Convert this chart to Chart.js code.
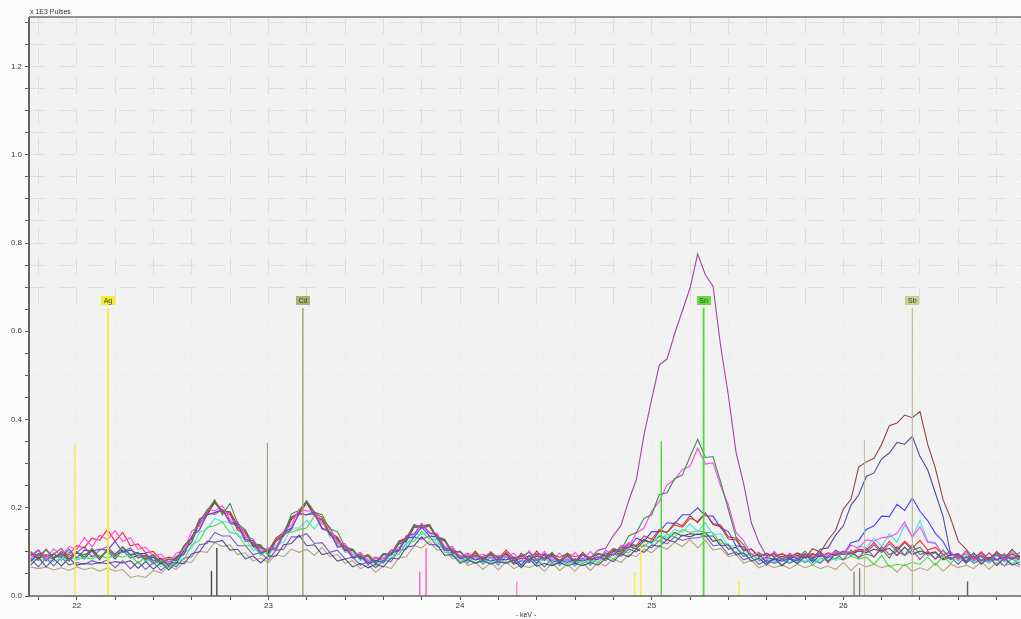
<!DOCTYPE html>
<html>
<head>
<meta charset="utf-8">
<script src="https://cdn.jsdelivr.net/npm/chart.js@4.4.1/dist/chart.umd.min.js"></script>
<style>
  html, body { margin: 0; padding: 0; background: #fcfcfc; }
  #wrap { width: 1021px; height: 619px; position: relative; }
</style>
</head>
<body>
<div id="wrap"><canvas id="spectrum"></canvas></div>
<script>
// Spectrum channels: first channel energy and channel width, keV
const KEV_START = 21.76;
const KEV_STEP = 0.04;

// Counts per channel, x 1E3 pulses (130 channels, 21.76 - 26.92 keV)
const specPurple = [
  0.092, 0.104, 0.080, 0.095, 0.108, 0.084, 0.099, 0.112, 0.088, 0.104,
  0.112, 0.094, 0.101, 0.109, 0.086, 0.093, 0.074, 0.085, 0.068, 0.090,
  0.097, 0.134, 0.150, 0.188, 0.185, 0.196, 0.165, 0.160, 0.124, 0.126,
  0.098, 0.106, 0.104, 0.138, 0.150, 0.188, 0.184, 0.186, 0.152, 0.146,
  0.110, 0.114, 0.088, 0.096, 0.075, 0.086, 0.080, 0.102, 0.104, 0.136,
  0.140, 0.162, 0.142, 0.139, 0.108, 0.107, 0.086, 0.094, 0.082, 0.090,
  0.095, 0.076, 0.099, 0.081, 0.091, 0.078, 0.094, 0.082, 0.090, 0.079,
  0.090, 0.080, 0.093, 0.086, 0.104, 0.108, 0.137, 0.160, 0.216, 0.264,
  0.365, 0.446, 0.524, 0.537, 0.595, 0.646, 0.698, 0.775, 0.728, 0.702,
  0.566, 0.455, 0.326, 0.254, 0.166, 0.121, 0.090, 0.097, 0.082, 0.094,
  0.083, 0.094, 0.087, 0.099, 0.075, 0.097, 0.082, 0.104, 0.086, 0.108,
  0.088, 0.112, 0.094, 0.101, 0.092, 0.104, 0.083, 0.102, 0.084, 0.094,
  0.082, 0.094, 0.080, 0.091, 0.079, 0.098, 0.081, 0.096, 0.082, 0.099
];
const specDarkGreen = [
  0.098, 0.092, 0.104, 0.086, 0.096, 0.079, 0.100, 0.089, 0.108, 0.087,
  0.104, 0.096, 0.110, 0.094, 0.099, 0.081, 0.094, 0.076, 0.084, 0.082,
  0.114, 0.132, 0.170, 0.193, 0.218, 0.184, 0.210, 0.164, 0.150, 0.118,
  0.116, 0.094, 0.124, 0.139, 0.186, 0.194, 0.216, 0.190, 0.184, 0.152,
  0.146, 0.111, 0.106, 0.083, 0.092, 0.074, 0.096, 0.094, 0.122, 0.128,
  0.162, 0.156, 0.158, 0.133, 0.126, 0.101, 0.101, 0.082, 0.098, 0.079,
  0.097, 0.088, 0.094, 0.084, 0.090, 0.099, 0.081, 0.088, 0.097, 0.080,
  0.096, 0.078, 0.094, 0.086, 0.097, 0.090, 0.106, 0.104, 0.136, 0.144,
  0.176, 0.184, 0.230, 0.234, 0.266, 0.274, 0.316, 0.355, 0.314, 0.316,
  0.258, 0.196, 0.134, 0.116, 0.089, 0.096, 0.091, 0.095, 0.085, 0.092,
  0.084, 0.102, 0.081, 0.100, 0.079, 0.098, 0.094, 0.097, 0.088, 0.095,
  0.089, 0.107, 0.086, 0.112, 0.092, 0.116, 0.094, 0.100, 0.084, 0.104,
  0.084, 0.092, 0.086, 0.095, 0.088, 0.080, 0.097, 0.091, 0.094, 0.086
];
const specMagenta = [
  0.084, 0.104, 0.087, 0.107, 0.090, 0.112, 0.106, 0.132, 0.112, 0.138,
  0.128, 0.148, 0.124, 0.132, 0.106, 0.111, 0.090, 0.095, 0.076, 0.097,
  0.104, 0.147, 0.158, 0.197, 0.193, 0.205, 0.173, 0.169, 0.133, 0.129,
  0.101, 0.109, 0.108, 0.147, 0.161, 0.197, 0.193, 0.192, 0.163, 0.157,
  0.121, 0.119, 0.093, 0.099, 0.080, 0.089, 0.084, 0.105, 0.106, 0.137,
  0.141, 0.165, 0.143, 0.142, 0.111, 0.112, 0.090, 0.097, 0.088, 0.095,
  0.086, 0.093, 0.088, 0.097, 0.078, 0.103, 0.082, 0.101, 0.079, 0.097,
  0.079, 0.099, 0.081, 0.101, 0.084, 0.103, 0.094, 0.115, 0.112, 0.142,
  0.154, 0.192, 0.214, 0.252, 0.264, 0.287, 0.294, 0.335, 0.299, 0.302,
  0.249, 0.207, 0.144, 0.125, 0.094, 0.099, 0.082, 0.101, 0.080, 0.097,
  0.086, 0.093, 0.089, 0.097, 0.092, 0.101, 0.094, 0.115, 0.109, 0.127,
  0.124, 0.132, 0.134, 0.142, 0.168, 0.133, 0.157, 0.122, 0.119, 0.094,
  0.099, 0.082, 0.102, 0.080, 0.097, 0.078, 0.099, 0.082, 0.101, 0.084
];
const specBrown = [
  0.101, 0.082, 0.106, 0.086, 0.093, 0.090, 0.097, 0.094, 0.101, 0.082,
  0.107, 0.089, 0.112, 0.092, 0.097, 0.088, 0.092, 0.074, 0.083, 0.080,
  0.112, 0.129, 0.175, 0.184, 0.212, 0.189, 0.185, 0.149, 0.142, 0.112,
  0.109, 0.102, 0.132, 0.144, 0.179, 0.189, 0.212, 0.184, 0.172, 0.139,
  0.129, 0.102, 0.105, 0.084, 0.091, 0.074, 0.095, 0.094, 0.122, 0.129,
  0.159, 0.159, 0.162, 0.132, 0.127, 0.096, 0.101, 0.084, 0.092, 0.086,
  0.093, 0.087, 0.095, 0.074, 0.097, 0.078, 0.102, 0.081, 0.099, 0.076,
  0.097, 0.078, 0.099, 0.082, 0.089, 0.084, 0.101, 0.094, 0.113, 0.106,
  0.125, 0.122, 0.147, 0.144, 0.167, 0.159, 0.182, 0.166, 0.188, 0.162,
  0.157, 0.129, 0.127, 0.102, 0.107, 0.089, 0.097, 0.088, 0.095, 0.086,
  0.097, 0.086, 0.107, 0.099, 0.127, 0.149, 0.197, 0.219, 0.292, 0.304,
  0.312, 0.344, 0.386, 0.392, 0.410, 0.404, 0.418, 0.344, 0.290, 0.219,
  0.176, 0.124, 0.106, 0.084, 0.091, 0.086, 0.093, 0.084, 0.089, 0.082
];
const specSlate = [
  0.070, 0.088, 0.066, 0.084, 0.068, 0.086, 0.070, 0.074, 0.072, 0.076,
  0.073, 0.078, 0.075, 0.080, 0.063, 0.078, 0.061, 0.076, 0.059, 0.076,
  0.073, 0.096, 0.100, 0.124, 0.122, 0.126, 0.104, 0.106, 0.084, 0.091,
  0.075, 0.091, 0.090, 0.116, 0.119, 0.138, 0.114, 0.116, 0.094, 0.098,
  0.079, 0.084, 0.066, 0.074, 0.064, 0.072, 0.066, 0.086, 0.084, 0.111,
  0.114, 0.134, 0.116, 0.116, 0.092, 0.094, 0.074, 0.082, 0.074, 0.080,
  0.072, 0.078, 0.074, 0.081, 0.064, 0.084, 0.067, 0.074, 0.069, 0.076,
  0.068, 0.074, 0.069, 0.076, 0.070, 0.086, 0.078, 0.096, 0.089, 0.106,
  0.099, 0.116, 0.112, 0.128, 0.122, 0.138, 0.134, 0.141, 0.136, 0.136,
  0.114, 0.116, 0.094, 0.098, 0.079, 0.086, 0.070, 0.086, 0.068, 0.084,
  0.074, 0.091, 0.084, 0.106, 0.109, 0.138, 0.159, 0.206, 0.229, 0.271,
  0.279, 0.311, 0.324, 0.348, 0.344, 0.362, 0.316, 0.286, 0.234, 0.181,
  0.094, 0.094, 0.074, 0.091, 0.072, 0.088, 0.069, 0.086, 0.070, 0.076
];
const specBlue = [
  0.079, 0.096, 0.090, 0.094, 0.088, 0.106, 0.086, 0.104, 0.102, 0.106,
  0.104, 0.124, 0.099, 0.104, 0.096, 0.096, 0.079, 0.086, 0.069, 0.088,
  0.094, 0.136, 0.149, 0.184, 0.189, 0.196, 0.169, 0.161, 0.129, 0.121,
  0.096, 0.106, 0.109, 0.144, 0.154, 0.186, 0.184, 0.191, 0.154, 0.146,
  0.114, 0.111, 0.086, 0.091, 0.072, 0.081, 0.076, 0.098, 0.102, 0.131,
  0.134, 0.156, 0.136, 0.134, 0.104, 0.104, 0.084, 0.090, 0.082, 0.086,
  0.079, 0.084, 0.082, 0.088, 0.070, 0.092, 0.074, 0.096, 0.076, 0.082,
  0.076, 0.084, 0.079, 0.086, 0.082, 0.098, 0.092, 0.111, 0.109, 0.131,
  0.124, 0.146, 0.146, 0.166, 0.164, 0.184, 0.184, 0.200, 0.182, 0.181,
  0.154, 0.146, 0.114, 0.111, 0.089, 0.094, 0.076, 0.084, 0.079, 0.086,
  0.079, 0.096, 0.076, 0.094, 0.086, 0.104, 0.094, 0.121, 0.126, 0.151,
  0.159, 0.181, 0.180, 0.208, 0.194, 0.222, 0.192, 0.171, 0.142, 0.124,
  0.092, 0.096, 0.078, 0.098, 0.080, 0.086, 0.082, 0.088, 0.084, 0.091
];
const specRed = [
  0.096, 0.090, 0.094, 0.088, 0.096, 0.094, 0.114, 0.109, 0.131, 0.126,
  0.151, 0.124, 0.144, 0.114, 0.118, 0.098, 0.101, 0.082, 0.088, 0.084,
  0.114, 0.132, 0.171, 0.189, 0.211, 0.194, 0.188, 0.154, 0.146, 0.114,
  0.111, 0.102, 0.128, 0.142, 0.178, 0.184, 0.212, 0.189, 0.178, 0.144,
  0.134, 0.104, 0.106, 0.086, 0.094, 0.078, 0.096, 0.094, 0.124, 0.132,
  0.161, 0.154, 0.158, 0.130, 0.124, 0.098, 0.101, 0.084, 0.102, 0.082,
  0.100, 0.084, 0.104, 0.086, 0.092, 0.089, 0.096, 0.092, 0.094, 0.088,
  0.096, 0.089, 0.094, 0.088, 0.096, 0.092, 0.108, 0.102, 0.121, 0.114,
  0.136, 0.129, 0.151, 0.144, 0.161, 0.156, 0.176, 0.169, 0.188, 0.164,
  0.161, 0.134, 0.131, 0.104, 0.106, 0.088, 0.096, 0.090, 0.096, 0.088,
  0.098, 0.092, 0.096, 0.090, 0.098, 0.094, 0.102, 0.098, 0.106, 0.104,
  0.121, 0.102, 0.124, 0.106, 0.124, 0.109, 0.126, 0.104, 0.110, 0.094,
  0.100, 0.084, 0.102, 0.084, 0.100, 0.082, 0.098, 0.080, 0.096, 0.088
];
const specCyan = [
  0.086, 0.080, 0.084, 0.079, 0.086, 0.082, 0.088, 0.084, 0.091, 0.086,
  0.104, 0.086, 0.106, 0.088, 0.094, 0.078, 0.084, 0.066, 0.076, 0.070,
  0.098, 0.109, 0.144, 0.152, 0.176, 0.169, 0.166, 0.136, 0.131, 0.104,
  0.106, 0.092, 0.116, 0.122, 0.154, 0.154, 0.171, 0.152, 0.174, 0.134,
  0.126, 0.099, 0.100, 0.080, 0.086, 0.070, 0.088, 0.084, 0.111, 0.114,
  0.141, 0.139, 0.146, 0.119, 0.114, 0.090, 0.094, 0.076, 0.092, 0.074,
  0.090, 0.072, 0.092, 0.074, 0.082, 0.078, 0.085, 0.080, 0.086, 0.070,
  0.086, 0.070, 0.088, 0.072, 0.091, 0.084, 0.101, 0.094, 0.114, 0.109,
  0.126, 0.119, 0.138, 0.132, 0.151, 0.144, 0.164, 0.146, 0.166, 0.139,
  0.141, 0.114, 0.114, 0.092, 0.096, 0.079, 0.086, 0.078, 0.084, 0.076,
  0.086, 0.079, 0.084, 0.078, 0.096, 0.080, 0.100, 0.094, 0.114, 0.109,
  0.131, 0.112, 0.141, 0.122, 0.161, 0.134, 0.171, 0.124, 0.121, 0.094,
  0.096, 0.079, 0.096, 0.076, 0.094, 0.074, 0.092, 0.076, 0.084, 0.078
];
const specGreen = [
  0.076, 0.096, 0.079, 0.098, 0.080, 0.100, 0.082, 0.088, 0.084, 0.092,
  0.086, 0.092, 0.088, 0.094, 0.074, 0.090, 0.072, 0.080, 0.064, 0.080,
  0.082, 0.116, 0.126, 0.156, 0.159, 0.168, 0.144, 0.141, 0.114, 0.114,
  0.092, 0.106, 0.106, 0.146, 0.144, 0.151, 0.154, 0.181, 0.174, 0.156,
  0.119, 0.114, 0.089, 0.092, 0.074, 0.081, 0.074, 0.094, 0.094, 0.121,
  0.124, 0.146, 0.129, 0.128, 0.099, 0.098, 0.078, 0.084, 0.076, 0.082,
  0.074, 0.080, 0.076, 0.083, 0.066, 0.086, 0.069, 0.088, 0.071, 0.079,
  0.072, 0.080, 0.074, 0.082, 0.076, 0.092, 0.084, 0.102, 0.098, 0.116,
  0.112, 0.128, 0.124, 0.141, 0.134, 0.151, 0.144, 0.148, 0.144, 0.144,
  0.119, 0.118, 0.094, 0.098, 0.079, 0.086, 0.072, 0.088, 0.070, 0.086,
  0.072, 0.088, 0.070, 0.086, 0.079, 0.086, 0.082, 0.090, 0.084, 0.088,
  0.072, 0.092, 0.066, 0.072, 0.069, 0.076, 0.072, 0.088, 0.070, 0.090,
  0.074, 0.092, 0.076, 0.084, 0.079, 0.086, 0.070, 0.088, 0.072, 0.086
];
const specDarkGrey = [
  0.092, 0.086, 0.090, 0.084, 0.101, 0.082, 0.100, 0.084, 0.104, 0.086,
  0.102, 0.084, 0.104, 0.086, 0.092, 0.084, 0.088, 0.072, 0.078, 0.074,
  0.104, 0.122, 0.166, 0.184, 0.216, 0.192, 0.191, 0.159, 0.146, 0.116,
  0.114, 0.098, 0.126, 0.136, 0.174, 0.189, 0.211, 0.182, 0.171, 0.139,
  0.131, 0.104, 0.104, 0.084, 0.091, 0.074, 0.094, 0.092, 0.118, 0.124,
  0.156, 0.156, 0.161, 0.134, 0.128, 0.099, 0.101, 0.082, 0.098, 0.079,
  0.096, 0.078, 0.098, 0.080, 0.086, 0.084, 0.090, 0.086, 0.092, 0.074,
  0.092, 0.074, 0.094, 0.078, 0.096, 0.088, 0.104, 0.099, 0.116, 0.112,
  0.128, 0.120, 0.136, 0.127, 0.144, 0.136, 0.141, 0.139, 0.144, 0.124,
  0.128, 0.106, 0.110, 0.090, 0.096, 0.080, 0.088, 0.082, 0.090, 0.084,
  0.092, 0.086, 0.094, 0.089, 0.096, 0.092, 0.100, 0.094, 0.102, 0.098,
  0.106, 0.102, 0.108, 0.092, 0.111, 0.094, 0.102, 0.096, 0.100, 0.084,
  0.094, 0.088, 0.096, 0.079, 0.098, 0.082, 0.101, 0.084, 0.106, 0.088
];
const specKhaki = [
  0.066, 0.062, 0.066, 0.059, 0.064, 0.058, 0.066, 0.060, 0.064, 0.056,
  0.064, 0.056, 0.060, 0.042, 0.046, 0.042, 0.058, 0.052, 0.068, 0.060,
  0.078, 0.076, 0.101, 0.099, 0.121, 0.112, 0.116, 0.094, 0.098, 0.079,
  0.086, 0.076, 0.094, 0.089, 0.106, 0.099, 0.106, 0.092, 0.110, 0.089,
  0.094, 0.074, 0.080, 0.062, 0.070, 0.054, 0.068, 0.062, 0.086, 0.089,
  0.114, 0.109, 0.124, 0.104, 0.106, 0.084, 0.088, 0.069, 0.076, 0.060,
  0.076, 0.059, 0.078, 0.062, 0.070, 0.064, 0.072, 0.056, 0.074, 0.058,
  0.072, 0.056, 0.074, 0.058, 0.076, 0.068, 0.084, 0.076, 0.094, 0.089,
  0.106, 0.098, 0.114, 0.106, 0.122, 0.112, 0.128, 0.109, 0.126, 0.104,
  0.108, 0.089, 0.094, 0.074, 0.081, 0.064, 0.072, 0.064, 0.070, 0.062,
  0.072, 0.064, 0.070, 0.062, 0.068, 0.060, 0.076, 0.058, 0.074, 0.066,
  0.072, 0.064, 0.070, 0.054, 0.072, 0.056, 0.064, 0.058, 0.074, 0.056,
  0.072, 0.064, 0.070, 0.062, 0.078, 0.060, 0.076, 0.068, 0.074, 0.066
];
const specViolet = [
  0.084, 0.066, 0.086, 0.068, 0.088, 0.070, 0.076, 0.072, 0.080, 0.074,
  0.082, 0.064, 0.080, 0.062, 0.078, 0.060, 0.076, 0.058, 0.074, 0.066,
  0.086, 0.089, 0.116, 0.119, 0.144, 0.136, 0.136, 0.114, 0.114, 0.094,
  0.098, 0.082, 0.104, 0.106, 0.134, 0.134, 0.141, 0.119, 0.121, 0.099,
  0.104, 0.084, 0.088, 0.070, 0.078, 0.064, 0.081, 0.078, 0.104, 0.106,
  0.134, 0.129, 0.136, 0.112, 0.111, 0.089, 0.092, 0.074, 0.090, 0.072,
  0.088, 0.070, 0.090, 0.072, 0.080, 0.076, 0.083, 0.066, 0.086, 0.069,
  0.084, 0.068, 0.086, 0.070, 0.088, 0.080, 0.096, 0.090, 0.106, 0.100,
  0.116, 0.109, 0.126, 0.118, 0.134, 0.126, 0.131, 0.132, 0.136, 0.114,
  0.116, 0.094, 0.100, 0.082, 0.088, 0.072, 0.081, 0.074, 0.082, 0.074,
  0.084, 0.076, 0.082, 0.074, 0.091, 0.084, 0.100, 0.092, 0.106, 0.099,
  0.116, 0.098, 0.118, 0.102, 0.121, 0.104, 0.110, 0.092, 0.098, 0.082,
  0.088, 0.072, 0.090, 0.074, 0.082, 0.076, 0.084, 0.068, 0.086, 0.070
];

// Element lines: K-alpha1 with label, K-alpha2 without
const elementNames = ['Ag', 'Cd', 'Sn', 'Sb'];
const kAlpha1KeV = [22.163, 23.180, 25.271, 26.360];
const kAlpha1Height = [0.653, 0.653, 0.653, 0.653];
const kAlpha2KeV = [21.990, 22.995, 25.050, 26.110];
const kAlpha2Height = [0.342, 0.347, 0.350, 0.354];

// Short escape / sum lines along the baseline
const minorKeV = [22.703, 22.731, 23.790, 23.823, 24.296, 24.911, 24.943, 25.456, 26.056, 26.085, 26.648];
const minorHeight = [0.057, 0.109, 0.055, 0.109, 0.033, 0.055, 0.111, 0.033, 0.055, 0.063, 0.033];

// Axis ticks
const xTickValues = [21.8, 22.0, 22.2, 22.4, 22.6, 22.8, 23.0, 23.2, 23.4, 23.6, 23.8, 24.0, 24.2, 24.4,
                     24.6, 24.8, 25.0, 25.2, 25.4, 25.6, 25.8, 26.0, 26.2, 26.4, 26.6, 26.8];
const xTickLabels = ['22', '23', '24', '25', '26'];
const yTickValues = [0, 0.05, 0.1, 0.15, 0.2, 0.25, 0.3, 0.35, 0.4, 0.45, 0.5, 0.55, 0.6, 0.65,
                     0.7, 0.75, 0.8, 0.85, 0.9, 0.95, 1.0, 1.05, 1.1, 1.15, 1.2, 1.25, 1.3];
const yTickLabels = ['0.0', '0.2', '0.4', '0.6', '0.8', '1.0', '1.2'];

// ---- styles ----
const spectra = [specPurple, specDarkGreen, specMagenta, specBrown, specSlate, specBlue,
                 specRed, specCyan, specGreen, specDarkGrey, specKhaki, specViolet];
const spectraColors = ['#a3479f', '#418a50', '#ff45ee', '#8e4848', '#4f4f91', '#4040ff',
                       '#ff2828', '#3fe3e3', '#3fdf3f', '#474747', '#b3a57b', '#7b5bbd'];
const elementLineColors = ['#f2f231', '#a29e7c', '#47dd35', '#b9b998'];
const elementLineWidths = [1.8, 1.4, 1.8, 1.2];
const elementTagFill = ['#eef030', '#a9b271', '#62dc3c', '#c9cf8e'];
const minorColors = ['#4a4a4a', '#4a4a4a', '#ff5fc8', '#ff5fc8', '#ff7fd0', '#f0ee40', '#f0ee40',
                     '#f0ee40', '#8a8670', '#8a8670', '#606060'];

const FONT = '"Liberation Sans", Arial, sans-serif';

const keV = specPurple.map((_, i) => +(KEV_START + i * KEV_STEP).toFixed(2));

const datasets = [];
elementNames.forEach((name, i) => {
  datasets.push({
    data: [{ x: kAlpha1KeV[i], y: 0 }, { x: kAlpha1KeV[i], y: kAlpha1Height[i] }],
    borderColor: elementLineColors[i], borderWidth: elementLineWidths[i], order: 0
  });
  datasets.push({
    data: [{ x: kAlpha2KeV[i], y: 0 }, { x: kAlpha2KeV[i], y: kAlpha2Height[i] }],
    borderColor: elementLineColors[i], borderWidth: elementLineWidths[i] * 0.8, order: 0
  });
});
minorKeV.forEach((e, i) => {
  datasets.push({
    data: [{ x: e, y: 0 }, { x: e, y: minorHeight[i] }],
    borderColor: minorColors[i], borderWidth: 1.4, order: 0
  });
});
spectra.forEach((vals, s) => {
  datasets.push({
    data: vals.map((v, i) => ({ x: keV[i], y: v })),
    borderColor: spectraColors[s], borderWidth: 1.1, order: 1
  });
});

const near = (a, b) => Math.abs(a - b) < 1e-6;

const decor = {
  id: 'decor',
  beforeDraw(chart) {
    const { ctx, chartArea: a } = chart;
    ctx.save();
    ctx.fillStyle = '#fcfcfc';
    ctx.fillRect(0, 0, chart.width, chart.height);
    ctx.fillStyle = '#f2f2f2';
    ctx.fillRect(a.left, a.top, a.right - a.left, a.bottom - a.top);
    ctx.restore();
  },
  beforeDatasetsDraw(chart) {
    // the measurement window below the tag line is shaded lighter
    const { ctx, chartArea: a, scales: { y } } = chart;
    const yTop = y.getPixelForValue(0.655);
    ctx.save();
    ctx.fillStyle = 'rgba(242,242,242,0.82)';
    ctx.fillRect(a.left, yTop, a.right - a.left, a.bottom - yTop);
    ctx.restore();
  },
  afterDatasetsDraw(chart) {
    const { ctx, scales: { x, y } } = chart;
    ctx.save();
    ctx.font = '7px ' + FONT;
    ctx.textAlign = 'center';
    ctx.textBaseline = 'middle';
    elementNames.forEach((name, i) => {
      const px = x.getPixelForValue(kAlpha1KeV[i]);
      const py = y.getPixelForValue(kAlpha1Height[i]);
      const w = Math.ceil(ctx.measureText(name).width) + 5;
      const h = 9;
      ctx.fillStyle = elementTagFill[i];
      ctx.fillRect(Math.round(px - w / 2), Math.round(py - h - 3), w, h);
      ctx.fillStyle = '#3a3a2a';
      ctx.fillText(name, px, py - 3 - h / 2 + 0.5);
    });
    ctx.restore();
  },
  afterDraw(chart) {
    const { ctx, chartArea: a } = chart;
    ctx.save();
    // frame: top rule, left and bottom axes
    ctx.strokeStyle = '#707070';
    ctx.lineWidth = 1.6;
    ctx.beginPath(); ctx.moveTo(a.left, a.top - 1); ctx.lineTo(chart.width, a.top - 1); ctx.stroke();
    ctx.strokeStyle = '#666';
    ctx.lineWidth = 2;
    ctx.beginPath(); ctx.moveTo(a.left, a.top - 1); ctx.lineTo(a.left, a.bottom + 1); ctx.stroke();
    ctx.lineWidth = 1.4;
    ctx.beginPath(); ctx.moveTo(a.left, a.bottom); ctx.lineTo(a.right, a.bottom); ctx.stroke();
    // axis captions
    ctx.fillStyle = '#333';
    ctx.font = '7px ' + FONT;
    ctx.textAlign = 'left';
    ctx.textBaseline = 'alphabetic';
    ctx.fillText('x 1E3 Pulses', a.left + 1, 14);
    ctx.textAlign = 'center';
    ctx.fillText('- keV -', 526, 617);
    ctx.restore();
  }
};

new Chart(document.getElementById('spectrum'), {
  type: 'line',
  data: { datasets },
  options: {
    responsive: true,
    maintainAspectRatio: false,
    animation: false,
    events: [],
    layout: { padding: { top: 18, right: 0, left: 0, bottom: 0 } },
    elements: {
      point: { radius: 0 },
      line: { tension: 0, fill: false }
    },
    plugins: { legend: { display: false }, tooltip: { enabled: false } },
    scales: {
      x: {
        type: 'linear',
        min: 21.751,
        max: 26.927,
        afterBuildTicks: s => { s.ticks = xTickValues.map(v => ({ value: v })); },
        afterFit: s => { s.height = 23; },
        grid: { color: '#dedede', lineWidth: 1, tickLength: 4, tickColor: '#555', drawOnChartArea: true },
        border: { display: false, dash: [16, 14] },
        ticks: {
          autoSkip: false, maxRotation: 0, padding: 1,
          color: '#333', font: { family: FONT, size: 8 },
          callback: v => {
            const hit = xTickLabels.find(l => near(+l, v));
            return hit === undefined ? '' : hit;
          }
        }
      },
      y: {
        type: 'linear',
        min: 0,
        max: 1.31,
        afterBuildTicks: s => { s.ticks = yTickValues.map(v => ({ value: v })); },
        afterFit: s => { s.width = 29; },
        grid: { color: '#dedede', lineWidth: 1, tickLength: 4, tickColor: '#555' },
        border: { display: false, dash: [16, 14] },
        ticks: {
          autoSkip: false, padding: 3,
          color: '#333', font: { family: FONT, size: 8 },
          callback: v => {
            const hit = yTickLabels.find(l => near(+l, v));
            return hit === undefined ? '' : hit;
          }
        }
      }
    }
  },
  plugins: [decor]
});
</script>
</body>
</html>
